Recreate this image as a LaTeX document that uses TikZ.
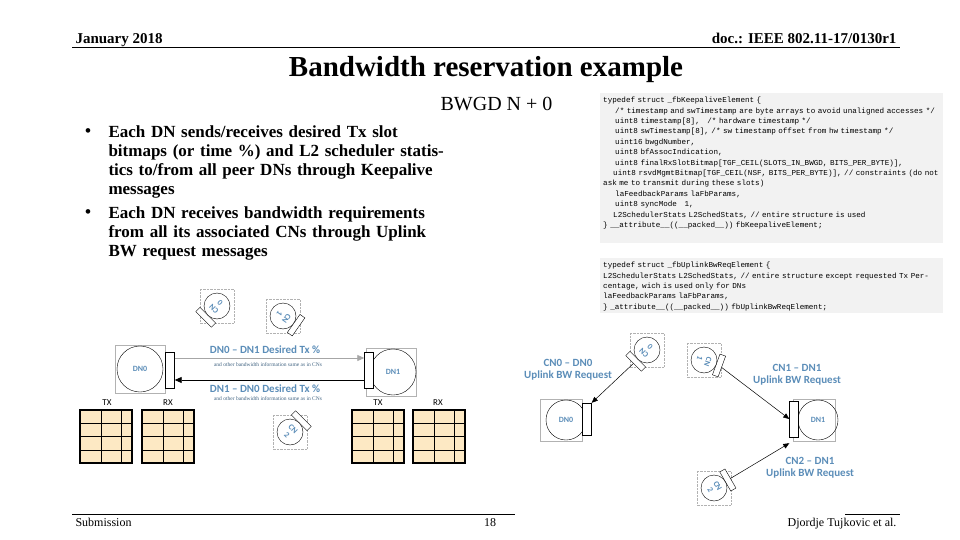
\documentclass[tikz,border=0pt]{standalone}
\usepackage{fontspec}
\setmainfont{Liberation Serif}
\newfontfamily\sansf{Carlito}
\newfontfamily\monof{Liberation Mono}
\usetikzlibrary{arrows.meta}
\definecolor{lbl}{HTML}{5B8DB8}
\definecolor{cell}{HTML}{FDE9C4}
\definecolor{codebg}{HTML}{F2F2F2}
\tikzset{
 dn/.style={circle,draw,minimum size=46pt,inner sep=0pt,font=\sansf\fontsize{8}{8}\selectfont\bfseries,text=lbl},
 dnbox/.style={draw=gray!60,minimum width=50pt,minimum height=48pt,inner sep=0pt},
 dnrect/.style={draw,fill=white,minimum width=9pt,minimum height=36pt,inner sep=0pt},
 cn/.style={circle,draw,minimum size=26pt,inner sep=0pt,fill=white},
 cnrect/.style={draw,fill=white,minimum width=6pt,minimum height=22pt,inner sep=0pt},
 lab/.style={font=\sansf\fontsize{11}{12.5}\selectfont\bfseries,text=lbl,align=center},
 small/.style={font=\fontsize{5.5}{6}\selectfont,text=lbl!70!black},
 arr/.style={-{Triangle[length=7pt,width=6pt]},line width=0.8pt},
 bul/.style={font=\fontsize{17}{19}\selectfont\bfseries,anchor=north west,align=left,text width=345pt},
 code/.style={font=\monof\fontsize{7.6}{10.4}\selectfont,anchor=north west,align=left,inner sep=3pt},
 grid/.style={line width=2pt}
}
\newcommand{\cnicon}[5]{% name, x, y, screen angle, label
 \draw[gray!60,densely dotted] (#2-17,#3-17) rectangle (#2+17,#3+17);
 \node[cnrect,rotate=#4] (#1r) at ({#2+16*cos(#4)},{#3-16*sin(#4)}) {};
 \node[cn] (#1) at (#2,#3) {};
 \node[rotate=#4-90,font=\sansf\fontsize{8}{8.5}\selectfont\bfseries,text=lbl,align=center,inner sep=0pt] (#1t) at (#2,#3) {CN\\#5};
}
\newcommand{\tgrid}[2]{%
 \fill[cell] (#1,#2) rectangle (#1+52,#2+53);
 \draw[thin] (#1+21,#2)--(#1+21,#2+53) (#1+41,#2)--(#1+41,#2+53);
 \foreach \k in {1,2,3} \draw[thin] (#1,#2+13.25*\k)--(#1+52,#2+13.25*\k);
 \draw[grid] (#1,#2) rectangle (#1+52,#2+53);
}
\begin{document}
\begin{tikzpicture}[x=1pt,y=-1pt]
\useasboundingbox (0,0) rectangle (960,540);
% header
\node[anchor=base west,font=\fontsize{15}{15}\selectfont\bfseries] (date) at (72,44) {January 2018};
\node[anchor=base east,font=\fontsize{15}{15}\selectfont\bfseries] (doc) at (900,44) {doc.: IEEE 802.11-17/0130r1};
\draw (72,47)--(900,47);
\node[font=\fontsize{29}{29}\selectfont\bfseries] (title) at (486,70) {Bandwidth reservation example};
\node[anchor=east,font=\fontsize{20}{20}\selectfont] (bw) at (556,104) {BWGD N + 0};
% bullets
\node[bul] (b1) at (105,122) {\hyphenpenalty=10000 Each DN sends/receives desired Tx slot bitmaps (or time \%) and L2 scheduler statistics to/from all peer DNs through Keepalive messages};
\node[font=\fontsize{17}{17}\selectfont\bfseries] at (88,133) {\textbullet};
\node[bul] (b2) at (105,203) {\hyphenpenalty=10000 Each DN receives bandwidth requirements from all its associated CNs through Uplink BW request messages};
\node[font=\fontsize{17}{17}\selectfont\bfseries] at (88,214) {\textbullet};
% code boxes
\fill[codebg] (600,93) rectangle (943,243);
\node[code,text width=338pt] (c1) at (600,94) {typedef struct \_fbKeepaliveElement \{\\
\hspace*{12pt}/* timestamp and swTimestamp are byte arrays to avoid unaligned accesses */\\
\hspace*{12pt}uint8 timestamp[8], \ \ /* hardware timestamp */\\
\hspace*{12pt}uint8 swTimestamp[8], /* sw timestamp offset from hw timestamp */\\
\hspace*{12pt}uint16 bwgdNumber,\\
\hspace*{12pt}uint8 bfAssocIndication,\\
\hspace*{12pt}uint8 finalRxSlotBitmap[TGF\_CEIL(SLOTS\_IN\_BWGD, BITS\_PER\_BYTE)],\\
\hspace*{10pt}uint8 rsvdMgmtBitmap[TGF\_CEIL(NSF, BITS\_PER\_BYTE)], // constraints (do not ask me to transmit during these slots)\\
\hspace*{12pt}laFeedbackParams laFbParams,\\
\hspace*{12pt}uint8 syncMode \ \ 1,\\
\hspace*{10pt}L2SchedulerStats L2SchedStats, // entire structure is used\\
\} \_\_attribute\_\_((\_\_packed\_\_)) fbKeepaliveElement;};
\fill[codebg] (600,258) rectangle (943,313);
\node[code,text width=338pt] (c2) at (600,259) {typedef struct \_fbUplinkBwReqElement \{\\
L2SchedulerStats L2SchedStats, // entire structure except requested Tx Percentage, wich is used only for DNs\\
laFeedbackParams laFbParams,\\
\} \_attribute\_\_((\_\_packed\_\_)) fbUplinkBwReqElement;};
% left diagram
\node[dnbox] (b0) at (140,369) {};
\node[dn] (dn0) at (140,369) {DN0};
\node[dnrect] (dn0r) at (170,370) {};
\node[dnbox] (b1x) at (391,372) {};
\node[dn] (dn1) at (393,372) {DN1};
\node[dnrect] (dn1r) at (369,370) {};
\draw[arr,draw=gray!70] (dn0r.east |- 0,358) -- (dn1r.west |- 0,358);
\draw[arr] (dn1r.west |- 0,380) -- (dn0r.east |- 0,380);
\node[lab] (t1) at (265,350) {DN0 \textendash\ DN1 Desired Tx \%};
\node[small] (s1) at (268,365) {and other bandwidth information same as in CNs};
\node[lab] (t2) at (265,389) {DN1 \textendash\ DN0 Desired Tx \%};
\node[small] (s2) at (268,399) {and other bandwidth information same as in CNs};
\cnicon{cna}{217}{306}{225}{0}
\cnicon{cnb}{283}{316}{-35}{1}
\cnicon{cnc}{290}{432}{45}{2}
\node[font=\sansf\fontsize{9}{9}\selectfont] (tx0) at (107,403) {TX};
\node[font=\sansf\fontsize{9}{9}\selectfont] (rx0) at (168,403) {RX};
\node[font=\sansf\fontsize{9}{9}\selectfont] (tx1) at (378,403) {TX};
\node[font=\sansf\fontsize{9}{9}\selectfont] (rx1) at (438,403) {RX};
\tgrid{80}{410}
\tgrid{142}{410}
\tgrid{352}{410}
\tgrid{413}{410}
% right diagram
\node[dnbox,minimum width=42pt,minimum height=42pt] (rb0) at (561,420) {};
\node[dn,minimum size=40pt] (rdn0) at (566,420) {DN0};
\node[dnrect,minimum width=9pt,minimum height=32pt] (rdn0r) at (587,419) {};
\node[dnbox,minimum width=42pt,minimum height=42pt] (rb1) at (814,420) {};
\node[dn,minimum size=40pt] (rdn1) at (818,420) {DN1};
\node[dnrect,minimum width=9pt,minimum height=36pt] (rdn1r) at (794,419) {};
\cnicon{rcna}{647}{350}{225}{0}
\cnicon{rcnb}{704}{360}{-20}{1}
\cnicon{rcnc}{714}{488}{30}{2}
\draw[arr,line width=0.5pt,-{Triangle[length=6pt,width=5pt]}] (rcnar) -- (rdn0r.north east);
\draw[arr,line width=0.5pt,-{Triangle[length=6pt,width=5pt]}] (rcnbr) -- (rdn1r.west);
\draw[arr,line width=0.5pt,-{Triangle[length=6pt,width=5pt]}] (rcncr) -- ([yshift=-6pt]rdn1r.south west);
\node[lab] (l0) at (568,370) {CN0 \textendash\ DN0\\Uplink BW Request};
\node[lab] (l1) at (797,375) {CN1 \textendash\ DN1\\Uplink BW Request};
\node[lab] (l2) at (810,468) {CN2 \textendash\ DN1\\Uplink BW Request};
% footer
\draw (72,514)--(515,514);
\draw (845,514)--(900,514);
\node[anchor=base west,font=\fontsize{12}{12}\selectfont] (sub) at (72,526) {Submission};
\node[anchor=base,font=\fontsize{12}{12}\selectfont] (pg) at (490,526) {18};
\node[anchor=base east,font=\fontsize{12}{12}\selectfont] (auth) at (900,526) {Djordje Tujkovic et al.};
\end{tikzpicture}
\end{document}
